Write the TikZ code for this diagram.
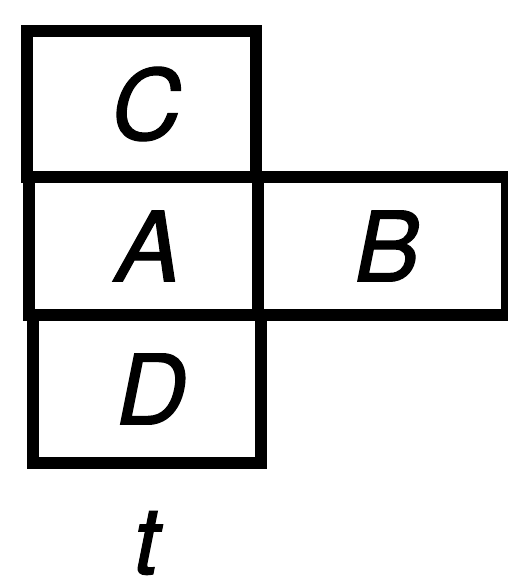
\documentclass[tikz,border=0pt]{standalone}
\usepackage{fontspec}
\setmainfont{TeX Gyre Heros}
\newfontfamily\lblfont[FakeBold=1.3,FakeSlant=0.2]{TeX Gyre Heros}
\begin{document}
\begin{tikzpicture}[x=1pt,y=-1pt,
  cell/.style={draw=black,line width=12pt,rectangle,inner sep=0pt,
    font=\fontsize{97}{97}\lblfont},
  lbl/.style={inner sep=0pt,font=\fontsize{94}{94}\lblfont}]
\useasboundingbox (0,0) rectangle (508,581);
\node[cell,minimum width=229pt,minimum height=146pt] (C) at (141.5,104) {C};
\node[cell,minimum width=229pt,minimum height=138pt] (A) at (143.5,246) {A};
\node[cell,minimum width=249pt,minimum height=138pt] (B) at (382.5,246) {B};
\node[cell,minimum width=228pt,minimum height=148pt] (D) at (147,389) {D};
\node[lbl] (t) at (142,543) {t};
\end{tikzpicture}
\end{document}
